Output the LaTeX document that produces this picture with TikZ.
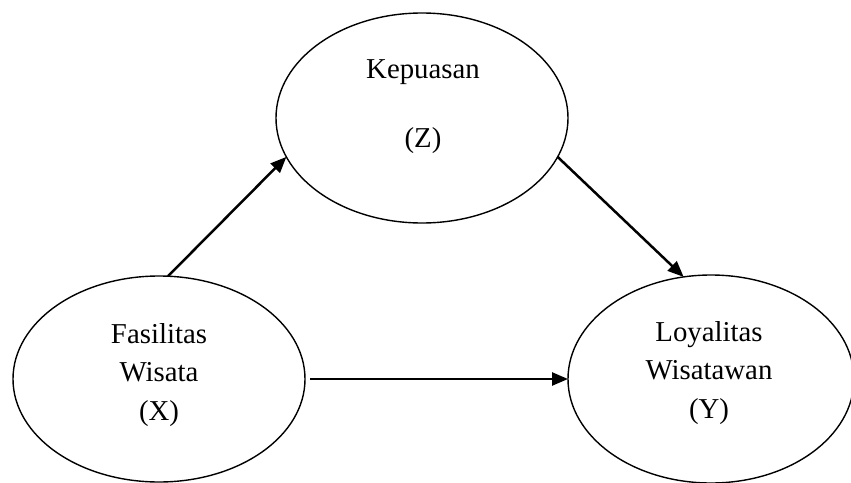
\documentclass[tikz,border=0pt]{standalone}
\usepackage{fontspec}
\setmainfont{Liberation Serif}
\usetikzlibrary{arrows.meta,shapes.geometric}

\begin{document}
\begin{tikzpicture}[x=1pt,y=-1pt,
  var/.style={ellipse,draw,line width=1.4pt,inner sep=0pt,outer sep=0pt},
  lbl/.style={align=center,anchor=base,font=\fontsize{28.8}{38.5}\selectfont},
  arr/.style={line width=2.5pt,-{Triangle[length=16pt,width=13pt]}}]
  \useasboundingbox (0,0) rectangle (851,482);
  % variables
  \node[var,minimum width=292pt,minimum height=210pt] (z) at (422,118) {};
  \node[var,minimum width=292pt,minimum height=206pt] (x) at (159,379) {};
  \node[var,minimum width=286pt,minimum height=208pt] (y) at (711,379) {};
  % texts (base = last line)
  \node[lbl] (zt) at (423,147) {Kepuasan\\[30.5pt](Z)};
  \node[lbl] (xt) at (159,420) {Fasilitas\\Wisata\\(X)};
  \node[lbl] (yt) at (709,418) {Loyalitas\\Wisatawan\\(Y)};
  % paths
  \draw[arr] (x.85) -- (z.196);
  \draw[arr] (z.344) -- (y.105);
  \draw[arr,shorten <=5pt] (x.east) -- (y.west);
\end{tikzpicture}
\end{document}
